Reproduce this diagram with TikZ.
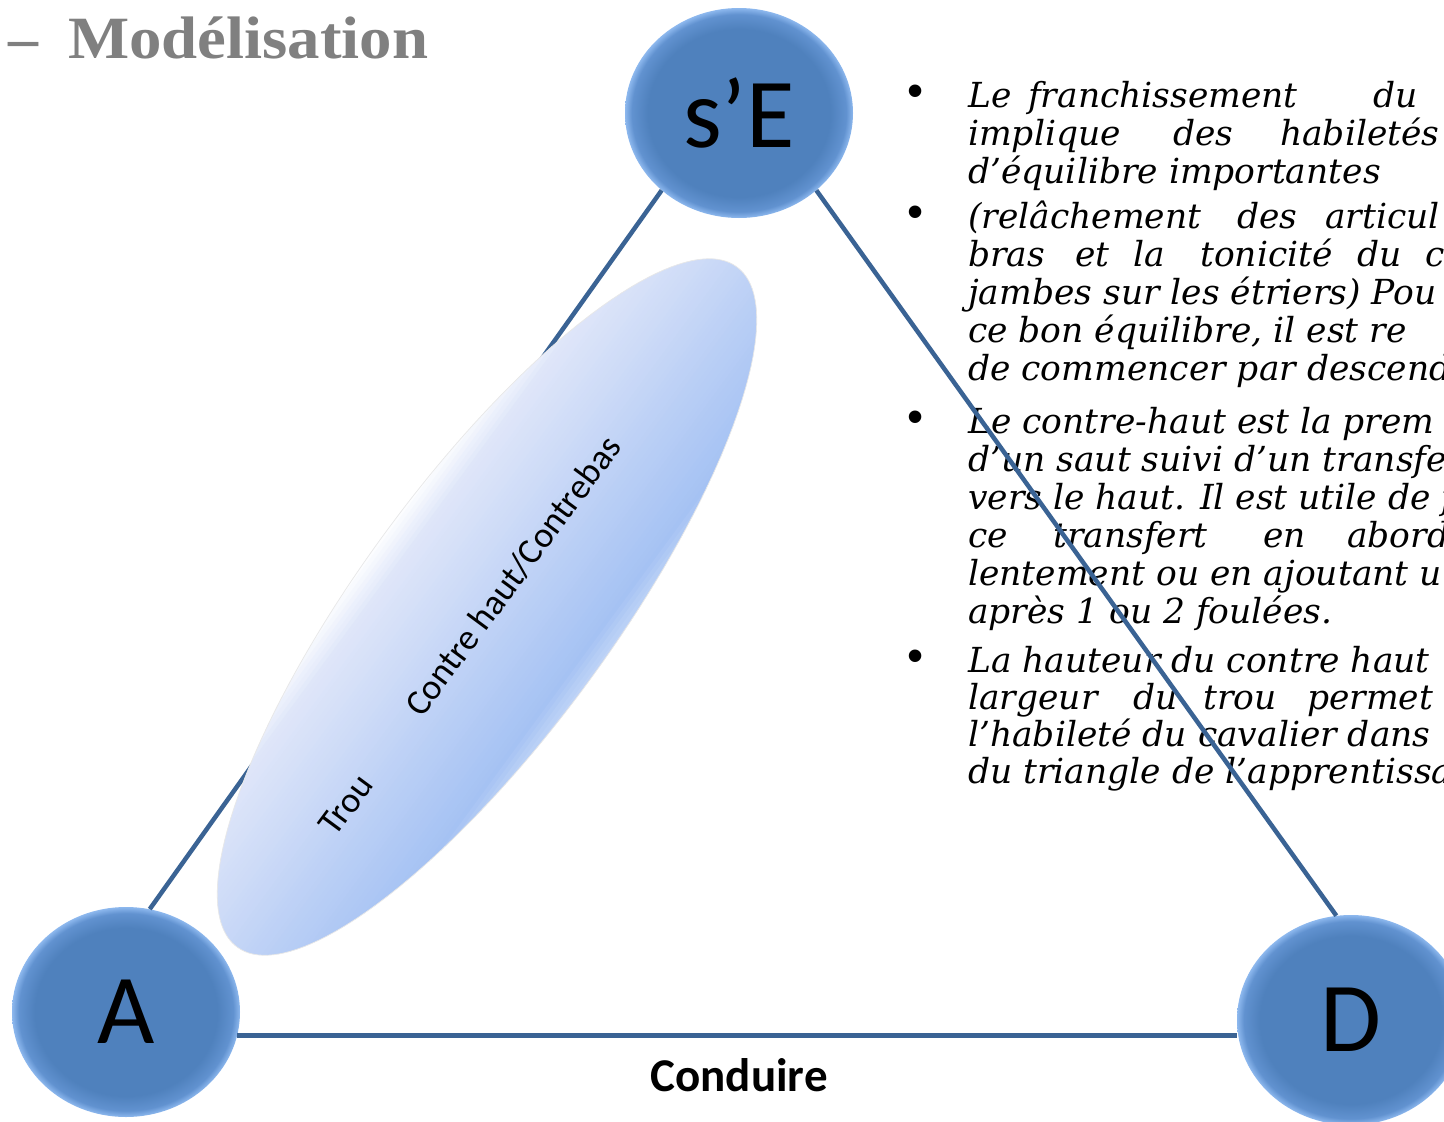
\documentclass[tikz,border=0pt]{standalone}
\usepackage{fontspec}
\setmainfont{DejaVu Serif}
\newfontfamily\calfont{Carlito}
\newfontfamily\titlefont{Liberation Serif}
\newfontfamily\bulfont{Liberation Sans}
\usetikzlibrary{shapes.geometric}
\definecolor{ballc}{HTML}{4F81BD}
\definecolor{ballmid}{HTML}{6192D0}
\definecolor{ballrim}{HTML}{8DB8EE}
\definecolor{linec}{HTML}{3A6394}
\definecolor{ecA}{HTML}{FCFDFF}
\definecolor{ecB}{HTML}{DFE6F9}
\definecolor{ecC}{HTML}{A5C2F3}
\definecolor{ecD}{HTML}{C4D7F7}
\definecolor{titlec}{HTML}{808080}
\pgfdeclareradialshading{ballshade}{\pgfpoint{0bp}{0bp}}{color(0bp)=(ballc); color(20bp)=(ballc); color(23.5bp)=(ballmid); color(25bp)=(ballrim); color(50bp)=(ballrim)}
\newcommand\bodyfont{\itshape\fontsize{34.5}{38}\selectfont}
\newcommand\wordat[4]{\node[bodytxt] (#1) at (#2,#3) {#4};}
\begin{document}
\begin{tikzpicture}[x=1pt,y=-1pt,
  ball/.style={ellipse, minimum width=228pt, minimum height=210pt, inner sep=0pt,
    shade, shading=ballshade, font=\calfont\fontsize{99}{99}\selectfont},
  conn/.style={draw=linec, line width=4.5pt},
  bodytxt/.style={anchor=base west, inner sep=0pt, font=\bodyfont},
  bul/.style={inner sep=0pt, font=\bulfont\fontsize{46}{46}\selectfont},
  elltext/.style={inner sep=0pt, font=\calfont\fontsize{36}{36}\selectfont}]
\fill[white] (0,0) rectangle (1444,1122);
\useasboundingbox (0,0) rectangle (1444,1122);

% title
\node[anchor=base west, inner sep=0pt, text=titlec, font=\titlefont\bfseries\fontsize{60}{60}\selectfont]
  (title) at (8,58) {–\hspace{30pt}\scalebox{1.08}[1]{Modélisation}};

% vertices
\node[ball] (sE) at (739,113) {s’E};
\node[ball] (A) at (126,1012) {A};
\node[ball] (D) at (1351,1020) {D};

% bullets
\node[bul] (b1) at (916,96) {•};
\node[bul] (b2) at (916,217) {•};
\node[bul] (b3) at (916,422) {•};
\node[bul] (b4) at (916,661) {•};

% body text
\wordat{l1a}{968}{107}{Le}
\wordat{l1b}{1028}{107}{franchissement}
\wordat{l1c}{1373}{107}{du}
\wordat{l2a}{968}{145}{implique}
\wordat{l2b}{1173}{145}{des}
\wordat{l2c}{1280}{145}{habiletés}
\wordat{l3}{968}{183}{d’équilibre importantes}
\wordat{l4a}{968}{228}{(relâchement}
\wordat{l4b}{1237}{228}{des}
\wordat{l4c}{1325}{228}{articul}
\wordat{l5a}{968}{266}{bras}
\wordat{l5b}{1075}{266}{et}
\wordat{l5c}{1133}{266}{la}
\wordat{l5d}{1200}{266}{tonicité}
\wordat{l5e}{1357}{266}{du}
\wordat{l5f}{1425}{266}{c}
\wordat{l6}{968}{304}{jambes sur les étriers) Pou}
\wordat{l7}{968}{342}{ce bon équilibre, il est re}
\wordat{l8}{968}{380}{de commencer par descend}
\wordat{l9}{968}{433}{Le contre-haut est la prem}
\wordat{l10}{968}{471}{d’un saut suivi d’un transfe}
\wordat{l11}{968}{509}{vers le haut. Il est utile de f}
\wordat{l12a}{968}{547}{ce}
\wordat{l12b}{1053}{547}{transfert}
\wordat{l12c}{1263}{547}{en}
\wordat{l12d}{1347}{547}{abord}
\wordat{l13}{968}{585}{lentement ou en ajoutant u}
\wordat{l14}{968}{623}{après 1 ou 2 foulées.}
\wordat{l15}{968}{672}{La hauteur du contre haut}
\wordat{l16a}{968}{709}{largeur}
\wordat{l16b}{1133}{709}{du}
\wordat{l16c}{1203}{709}{trou}
\wordat{l16d}{1307}{709}{permet}
\wordat{l17}{968}{746}{l’habileté du cavalier dans}
\wordat{l18}{968}{783}{du triangle de l’apprentissa}

% connectors
\draw[conn] (sE.225.7) -- (A.77.8);
\draw[conn] (sE.315) -- (D.98.7);
\draw[conn] (A.348) -- (A.348 -| D.west);

% shaded ellipse (gradient across the minor axis)
\begin{scope}[shift={(487,607)}, rotate=53.7]
  \begin{scope}
    \clip (0,0) ellipse [x radius=422pt, y radius=126pt];
    \foreach \i in {0,...,62}{
      \pgfmathsetmacro\yy{-127+4.1*\i}
      \ifnum\i<8
        \pgfmathtruncatemacro\pp{100*\i/7}\colorlet{stripc}{ecB!\pp!ecA}
      \else\ifnum\i<57
        \pgfmathtruncatemacro\pp{100*(\i-7)/49}\colorlet{stripc}{ecC!\pp!ecB}
      \else
        \pgfmathtruncatemacro\pp{100*(\i-56)/6}\colorlet{stripc}{ecD!\pp!ecC}
      \fi\fi
      \fill[stripc] (-430,\yy) rectangle (430,\yy+5);
    }
  \end{scope}
  \draw[black!9, line width=0.7pt] (0,0) ellipse [x radius=422pt, y radius=126pt];
\end{scope}
\node[elltext, rotate=53.5] (trou) at (346,805) {Trou};
\node[elltext, rotate=53.5] (chcb) at (513,576) {Contre haut/Contrebas};

% edge label
\node[inner sep=0pt, font=\calfont\bfseries\fontsize{47}{47}\selectfont] (cond) at (739,1075) {Conduire};
\end{tikzpicture}
\end{document}
